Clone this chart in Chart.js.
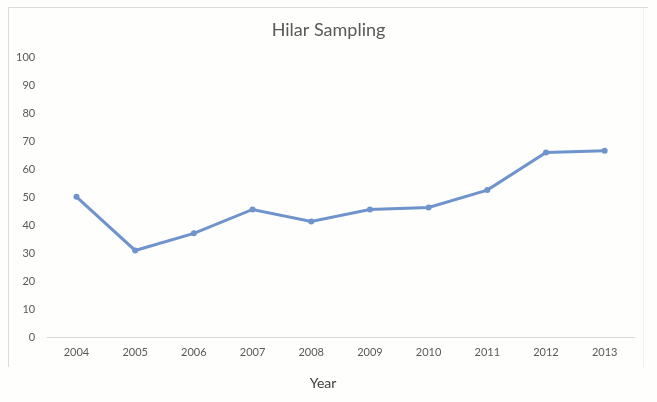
<!DOCTYPE html>
<html>
<head>
<meta charset="utf-8">
<script src="https://cdn.jsdelivr.net/npm/chart.js@4"></script>
<style>
  html, body { margin: 0; padding: 0; background: #fefefc; }
  #wrap { width: 657px; height: 402px; }
</style>
</head>
<body>
<div id="wrap"><canvas id="chart" width="657" height="402"></canvas></div>
<script>
// Hilar Sampling — line chart by year

const years = ['2004', '2005', '2006', '2007', '2008', '2009', '2010', '2011', '2012', '2013'];
const sampling = [50.2, 31.1, 37.2, 45.7, 41.4, 45.7, 46.4, 52.6, 66.0, 66.6];
const yTicks = [0, 10, 20, 30, 40, 50, 60, 70, 80, 90, 100];
const chartTitle = 'Hilar Sampling';
const xTitle = 'Year';

const FONT = 'Lato, "Open Sans", sans-serif';
const TXT = '#595959';

// marco gris claro + títulos centrados en el lienzo (como en Excel)
const frame = {
  id: 'frame',
  beforeDraw(chart) {
    const ctx = chart.ctx;
    ctx.save();
    ctx.fillStyle = '#fefefc';
    ctx.fillRect(0, 0, chart.width, chart.height);
    ctx.lineWidth = 1;
    ctx.strokeStyle = '#dedad6';
    ctx.beginPath();
    ctx.moveTo(8.5, 367);
    ctx.lineTo(8.5, 7.5);
    ctx.lineTo(648, 7.5);
    ctx.stroke();
    ctx.strokeStyle = '#f3f1ee';
    ctx.beginPath();
    ctx.moveTo(643.5, 8);
    ctx.lineTo(643.5, 367);
    ctx.stroke();
    ctx.restore();
  },
  afterDraw(chart) {
    const ctx = chart.ctx;
    ctx.save();
    ctx.textAlign = 'center';
    ctx.textBaseline = 'middle';
    ctx.fillStyle = TXT;
    ctx.font = '18px ' + FONT;
    ctx.fillText(chartTitle, chart.width / 2, 30);
    ctx.fillStyle = '#404040';
    ctx.font = '14px ' + FONT;
    ctx.fillText(xTitle, 323, 383);
    ctx.restore();
  }
};

new Chart(document.getElementById('chart'), {
  type: 'line',
  data: {
    labels: years,
    datasets: [{
      label: chartTitle,
      data: sampling,
      borderColor: '#6f93cc',
      backgroundColor: '#6f93cc',
      borderWidth: 3,
      pointRadius: 3,
      pointBorderWidth: 0,
      tension: 0
    }]
  },
  options: {
    responsive: false,
    animation: false,
    layout: { padding: { left: 4, right: 23, top: 57, bottom: 35 } },
    plugins: {
      legend: { display: false },
      tooltip: { enabled: false },
      title: { display: false }
    },
    scales: {
      x: {
        offset: true,
        grid: { display: true, color: 'transparent', drawTicks: false, offset: true },
        border: { display: true, color: '#d9d9d9', width: 1 },
        ticks: { color: TXT, font: { family: FONT, size: 11 }, padding: 8, maxRotation: 0 }
      },
      y: {
        min: 0,
        max: 100,
        afterBuildTicks(scale) { scale.ticks = yTicks.map(v => ({ value: v })); },
        grid: { display: false, drawTicks: false },
        border: { display: false },
        ticks: { color: TXT, font: { family: FONT, size: 11 }, padding: 12 }
      }
    }
  },
  plugins: [frame]
});
</script>
</body>
</html>
